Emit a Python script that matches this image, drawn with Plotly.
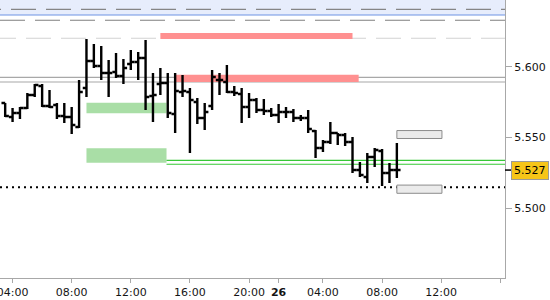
import pandas as pd
import plotly.graph_objects as go

# ---- data (30-minute OHLC bars) ----
t25 = pd.date_range("2024-06-25 03:30", "2024-06-25 21:30", freq="30min")
t26 = pd.date_range("2024-06-26 01:00", "2024-06-26 09:00", freq="30min")
times = t25.append(t26)

opens = [5.5744, 5.5645, 5.5673, 5.5708, 5.5800, 5.5864, 5.5722, 5.5730, 5.5652, 5.5645,
         5.5574, 5.5850, 5.6040, 5.6005, 5.5955, 5.5963, 5.5934, 5.6019, 5.6033, 5.6061,
         5.5793, 5.5878, 5.5885, 5.5666, 5.5821, 5.5821, 5.5751, 5.5638, 5.5722, 5.5906,
         5.5892, 5.5821, 5.5807, 5.5715, 5.5765, 5.5694, 5.5687, 5.5659, 5.5680, 5.5680,
         5.5638, 5.5638, 5.5546, 5.5426, 5.5468, 5.5532, 5.5518, 5.5468, 5.5270, 5.5221,
         5.5362, 5.5405, 5.5249, 5.5270]
highs = [5.5744, 5.5708, 5.5715, 5.5814, 5.5878, 5.5878, 5.5835, 5.5744, 5.5744, 5.5715,
         5.5906, 5.6196, 5.6160, 5.6146, 5.6047, 5.6097, 5.6054, 5.6118, 5.6104, 5.6189,
         5.5955, 5.5991, 5.5955, 5.5955, 5.5941, 5.5850, 5.5779, 5.5744, 5.5977, 5.5955,
         5.6012, 5.5864, 5.5850, 5.5814, 5.5779, 5.5772, 5.5708, 5.5737, 5.5715, 5.5701,
         5.5659, 5.5694, 5.5553, 5.5482, 5.5609, 5.5532, 5.5532, 5.5504, 5.5327, 5.5391,
         5.5426, 5.5419, 5.5320, 5.5461]
lows = [5.5645, 5.5609, 5.5631, 5.5701, 5.5786, 5.5715, 5.5708, 5.5631, 5.5602, 5.5525,
        5.5567, 5.5786, 5.5991, 5.5906, 5.5786, 5.5920, 5.5878, 5.5977, 5.5906, 5.5694,
        5.5609, 5.5800, 5.5638, 5.5532, 5.5786, 5.5391, 5.5595, 5.5553, 5.5694, 5.5800,
        5.5814, 5.5793, 5.5602, 5.5638, 5.5673, 5.5659, 5.5645, 5.5602, 5.5638, 5.5609,
        5.5617, 5.5532, 5.5355, 5.5398, 5.5454, 5.5447, 5.5440, 5.5249, 5.5221, 5.5179,
        5.5292, 5.5157, 5.5179, 5.5214]
closes = [5.5652, 5.5673, 5.5708, 5.5800, 5.5871, 5.5722, 5.5715, 5.5652, 5.5645, 5.5588,
          5.5821, 5.6040, 5.6005, 5.5955, 5.5955, 5.5934, 5.5991, 5.6033, 5.6061, 5.5786,
          5.5800, 5.5885, 5.5673, 5.5828, 5.5828, 5.5765, 5.5638, 5.5680, 5.5927, 5.5906,
          5.5821, 5.5814, 5.5715, 5.5765, 5.5694, 5.5687, 5.5659, 5.5680, 5.5680, 5.5638,
          5.5638, 5.5560, 5.5426, 5.5468, 5.5532, 5.5518, 5.5468, 5.5270, 5.5235, 5.5362,
          5.5412, 5.5249, 5.5270, 5.5270]

last_price = 5.527

# tick labels
x_tickvals = ["2024-06-25 04:00", "2024-06-25 08:00", "2024-06-25 12:00", "2024-06-25 16:00",
              "2024-06-25 20:00", "2024-06-26 01:00", "2024-06-26 04:00", "2024-06-26 08:00",
              "2024-06-26 12:00", "2024-06-26 16:00"]
x_ticktext = ["04:00", "08:00", "12:00", "16:00", "20:00", "<b>26</b>", "04:00", "08:00", "12:00", ""]
y_tickvals = [5.500, 5.550, 5.600]
y_ticktext = ["5.500", "5.550", "5.600"]

# levels / zones
band_top_line = 5.6365
dash_band = 5.6405
dash_dark = 5.6328
dash_light = 5.6201
red1 = dict(x0="2024-06-25 14:00", x1="2024-06-26 06:00", y0=5.6196, y1=5.6238)
red2 = dict(x0="2024-06-25 15:00", x1="2024-06-26 06:25", y0=5.5892, y1=5.5944)
gray_lines = [5.5924, 5.5892]
green1 = dict(x0="2024-06-25 09:00", x1="2024-06-25 14:25", y0=5.5671, y1=5.5746)
green2 = dict(x0="2024-06-25 09:00", x1="2024-06-25 14:25", y0=5.5322, y1=5.5424)
green_lines = [5.5338, 5.5311]
dotted_level = 5.5149
grey_box1 = dict(x0="2024-06-26 09:00", x1="2024-06-26 12:03", y0=5.5493, y1=5.5549)
grey_box2 = dict(x0="2024-06-26 09:00", x1="2024-06-26 12:03", y0=5.5106, y1=5.5164)

x_range = ["2024-06-25 03:09", "2024-06-26 16:19"]
y_range = [5.45078, 5.64710]

FONT = "DejaVu Sans"

fig = go.Figure()
fig.add_trace(go.Ohlc(
    x=times, open=opens, high=highs, low=lows, close=closes,
    increasing=dict(line=dict(color="black", width=2.4)),
    decreasing=dict(line=dict(color="black", width=2.4)),
    tickwidth=0.5, hoverinfo="skip", showlegend=False,
))

shapes = []
# blue band at the top
shapes.append(dict(type="rect", xref="paper", yref="y", x0=0, x1=1, y0=band_top_line, y1=5.70,
                   fillcolor="#e7edfc", line=dict(width=0), layer="below"))
shapes.append(dict(type="line", xref="paper", yref="y", x0=0, x1=1, y0=band_top_line, y1=band_top_line,
                   line=dict(color="#6f93e4", width=1.2), layer="below"))
# zones
for r, col in [(red1, "#ff9090"), (red2, "#ff9090"), (green1, "#a9dea6"), (green2, "#a9dea6")]:
    shapes.append(dict(type="rect", xref="x", yref="y", fillcolor=col, line=dict(width=0),
                       layer="below", **r))
for r in [grey_box1, grey_box2]:
    shapes.append(dict(type="rect", xref="x", yref="y", fillcolor="#ebebeb",
                       line=dict(color="#8c8c8c", width=1), layer="below", **r))
# dashed levels
for lvl, col, off in [(dash_band, "#858585", -24), (dash_dark, "#808080", 0), (dash_light, "#d2d2d2", -9)]:
    shapes.append(dict(type="line", xref="paper", yref="y", x0=off / 505, x1=1, y0=lvl, y1=lvl,
                       line=dict(color=col, width=1.2, dash="25px,10px"), layer="below"))
for lvl in gray_lines:
    shapes.append(dict(type="line", xref="paper", yref="y", x0=0, x1=1, y0=lvl, y1=lvl,
                       line=dict(color="#a8a8a8", width=1.2), layer="below"))
for lvl in green_lines:
    shapes.append(dict(type="line", xref="x", yref="y", x0=green1["x1"], x1=x_range[1], y0=lvl, y1=lvl,
                       line=dict(color="#36c836", width=1.2), layer="below"))
shapes.append(dict(type="line", xref="paper", yref="y", x0=0, x1=1, y0=dotted_level, y1=dotted_level,
                   line=dict(color="black", width=2, dash="2px,4px"), layer="below"))
# last price tick
shapes.append(dict(type="line", xref="paper", yref="y", x0=1, x1=1 + 6 / 505, y0=last_price, y1=last_price,
                   line=dict(color="black", width=1.5)))

fig.update_layout(
    width=550, height=300,
    margin=dict(l=0, r=45, t=0, b=22, pad=0, autoexpand=False),
    paper_bgcolor="white", plot_bgcolor="white",
    shapes=shapes,
    showlegend=False,
    font=dict(family=FONT, size=11, color="#141414"),
    annotations=[
        dict(text=f"{last_price:.3f}", xref="paper", yref="y", x=1, y=last_price, xanchor="left",
             yanchor="middle", xshift=6, showarrow=False, bgcolor="#f6c518", bordercolor="#9a9a9a",
             borderwidth=1, borderpad=2, font=dict(family=FONT, size=11, color="black")),
        dict(text="5.650", xref="paper", yref="y", x=1, y=5.650, xanchor="left", yanchor="middle",
             xshift=8, showarrow=False, font=dict(family=FONT, size=11, color="#141414")),
    ],
)
fig.update_xaxes(
    type="date", range=x_range, rangeslider=dict(visible=False),
    rangebreaks=[dict(bounds=[22, 1], pattern="hour")],
    tickmode="array", tickvals=x_tickvals, ticktext=x_ticktext,
    ticks="outside", ticklen=4, tickcolor="#a8a8a8", tickwidth=1,
    ticklabeloverflow="allow", automargin=False,
    showline=True, linecolor="#a8a8a8", linewidth=1,
    showgrid=False, zeroline=False, fixedrange=True,
    tickfont=dict(family=FONT, size=11, color="#141414"),
)
fig.update_yaxes(
    side="right", range=y_range, tickmode="array", tickvals=y_tickvals, ticktext=y_ticktext,
    ticks="outside", ticklen=6, tickcolor="#a8a8a8", tickwidth=1, automargin=False,
    showline=True, linecolor="#a8a8a8", linewidth=1,
    showgrid=False, zeroline=False, fixedrange=True,
    tickfont=dict(family=FONT, size=11, color="#141414"),
)

fig.write_html("out.html")
